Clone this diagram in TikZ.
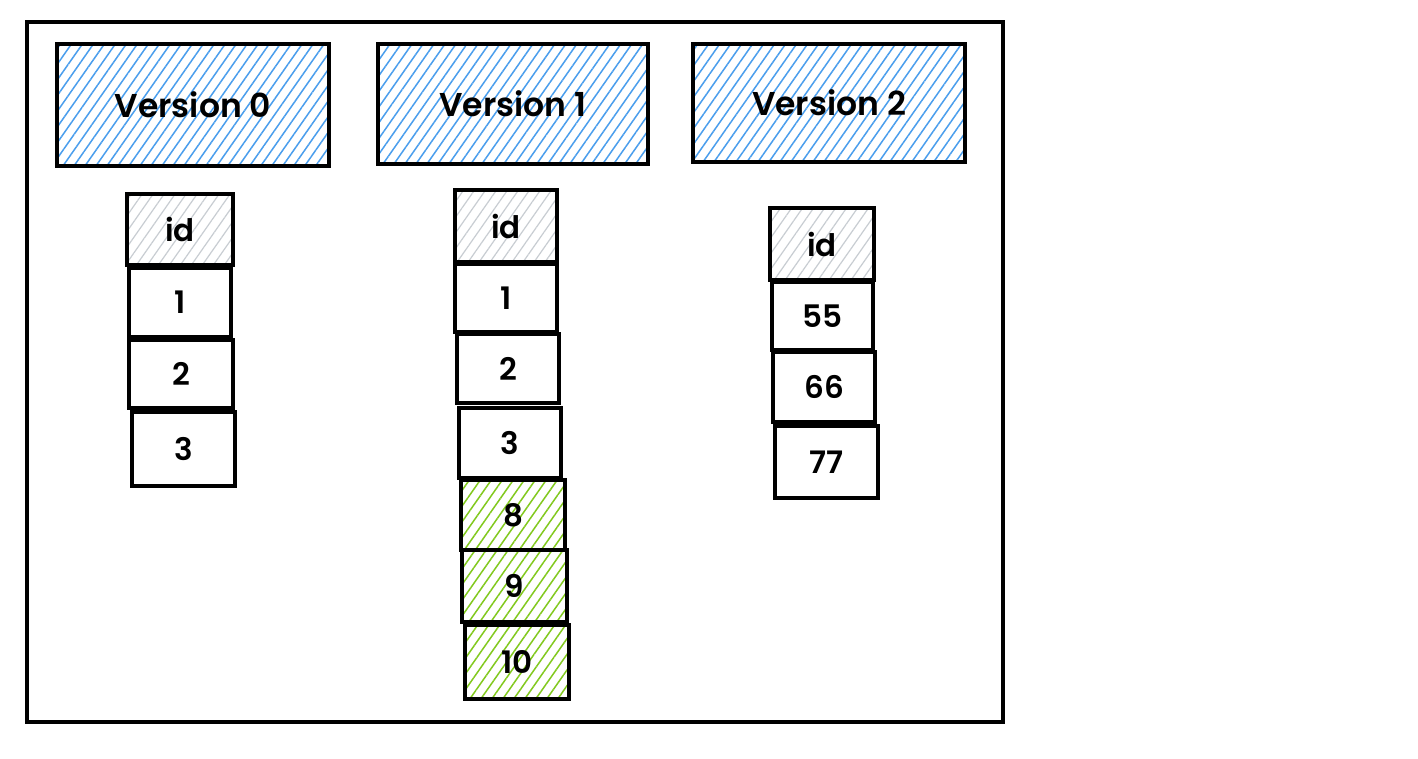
\documentclass[tikz,border=0pt]{standalone}
\usepackage{fontspec}
\setmainfont{Poppins}[BoldFont={Poppins SemiBold}]
\usetikzlibrary{patterns.meta}
\definecolor{hblue}{HTML}{4A9EED}
\definecolor{hgreen}{HTML}{82C91E}
\definecolor{hgray}{HTML}{C8CDD2}
\tikzset{
  frame/.style={draw=black, line width=3.2pt},
  boxbase/.style={draw=black, line width=3.1pt, inner sep=0pt, anchor=center},
  header/.style={boxbase, font=\fontsize{33}{40}\selectfont\bfseries,
    pattern={Lines[angle=55, distance=9pt, line width=1.5pt]}, pattern color=hblue},
  cell/.style={boxbase, fill=white, font=\fontsize{31}{38}\selectfont\bfseries},
  idcell/.style={boxbase, font=\fontsize{31}{38}\selectfont\bfseries,
    pattern={Lines[angle=55, distance=9pt, line width=1.2pt]}, pattern color=hgray},
  newcell/.style={boxbase, font=\fontsize{31}{38}\selectfont\bfseries,
    pattern={Lines[angle=55, distance=9pt, line width=1.5pt]}, pattern color=hgreen},
}
\begin{document}
\begin{tikzpicture}[x=1pt, y=-1pt]
\useasboundingbox (0,0) rectangle (1418,758);
\fill[white] (0,0) rectangle (1418,758);
\draw[frame] (27,22) rectangle (1003,722);
% headers
\node[header, minimum width=272pt, minimum height=122pt] (v0) at (193,105) {Version 0};
\node[header, minimum width=270pt, minimum height=120pt] (v1) at (513,104) {Version 1};
\node[header, minimum width=272pt, minimum height=118pt] (v2) at (829,103) {Version 2};
% version 0 column
\node[idcell, minimum width=106pt, minimum height=71pt] (a0) at (180,229.5) {id};
\node[cell, minimum width=102pt, minimum height=69pt] (a1) at (180,302.5) {1};
\node[cell, minimum width=104pt, minimum height=68pt] (a2) at (181,374) {2};
\node[cell, minimum width=103pt, minimum height=74pt] (a3) at (183.5,449) {3};
% version 1 column
\node[idcell, minimum width=102pt, minimum height=72pt] (b0) at (506,226) {id};
\node[cell, minimum width=102pt, minimum height=68pt] (b1) at (506,298) {1};
\node[cell, minimum width=102pt, minimum height=69pt] (b2) at (508,368.5) {2};
\node[cell, minimum width=102pt, minimum height=70pt] (b3) at (510,443) {3};
\node[newcell, minimum width=104pt, minimum height=70pt] (b8) at (513,515) {8};
\node[newcell, minimum width=105pt, minimum height=72pt] (b9) at (514.5,586) {9};
\node[newcell, minimum width=104pt, minimum height=74pt] (b10) at (517,662) {10};
% version 2 column
\node[idcell, minimum width=104pt, minimum height=72pt] (c0) at (822,244) {id};
\node[cell, minimum width=101pt, minimum height=68pt] (c1) at (822.5,316) {55};
\node[cell, minimum width=102pt, minimum height=70pt] (c2) at (824,387) {66};
\node[cell, minimum width=103pt, minimum height=72pt] (c3) at (826.5,462) {77};
\end{tikzpicture}
\end{document}
